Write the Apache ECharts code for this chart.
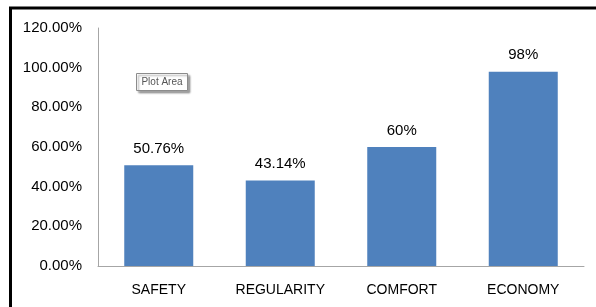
<!DOCTYPE html>
<html>
<head>
<meta charset="utf-8">
<script src="https://cdn.jsdelivr.net/npm/echarts@6/dist/echarts.min.js"></script>
<style>
  html, body { margin: 0; padding: 0; background: #fff; }
  #chart { width: 596px; height: 307px; }
</style>
</head>
<body>
<div id="chart"></div>
<script>
// data
let categories = ['SAFETY', 'REGULARITY', 'COMFORT', 'ECONOMY'];
let values = [0.5076, 0.4314, 0.60, 0.98];
let valueLabels = ['50.76%', '43.14%', '60%', '98%'];
let yTicks = [0, 0.2, 0.4, 0.6, 0.8, 1.0, 1.2];

let myChart = echarts.init(document.getElementById('chart'));
let font = 'Liberation Sans, Arial, sans-serif';

let option = {
    animation: false,
    grid: {
        left: 98,
        right: 12,
        top: 28,
        bottom: 41,
        containLabel: false
    },
    xAxis: {
        type: 'category',
        data: categories,
        axisLine: { lineStyle: { color: '#a6a6a6', width: 1 } },
        axisTick: { show: false },
        axisLabel: {
            color: '#000',
            fontSize: 14,
            fontFamily: font,
            margin: 17
        }
    },
    yAxis: {
        type: 'value',
        min: yTicks[0],
        max: yTicks[yTicks.length - 1],
        interval: 0.2,
        axisLine: { show: true, lineStyle: { color: '#a6a6a6', width: 1 } },
        axisTick: { show: false },
        splitLine: { show: false },
        axisLabel: {
            color: '#000',
            fontSize: 15,
            fontFamily: font,
            margin: 16,
            formatter: function (v) {
                return (v * 100).toFixed(2) + '%';
            }
        }
    },
    series: [{
        type: 'bar',
        data: values,
        barWidth: 69,
        itemStyle: { color: '#4f81bd' },
        label: {
            show: true,
            position: 'top',
            distance: 9,
            color: '#000',
            fontSize: 15,
            fontFamily: font,
            formatter: function (p) {
                return valueLabels[p.dataIndex];
            }
        }
    }],
    graphic: [
        {
            // outer chart border (only left and top are visible)
            type: 'rect',
            shape: { x: 10.5, y: 8, width: 700, height: 400 },
            style: { fill: 'none', stroke: '#000', lineWidth: 3 },
            silent: true
        },
        {
            type: 'group',
            left: 136,
            top: 73,
            children: [
                {
                    type: 'rect',
                    shape: { x: 0, y: 0, width: 51, height: 17 },
                    style: {
                        fill: '#fff',
                        stroke: '#8c8c8c',
                        lineWidth: 1,
                        shadowBlur: 2,
                        shadowOffsetX: 2,
                        shadowOffsetY: 2,
                        shadowColor: 'rgba(0,0,0,0.35)'
                    }
                },
                {
                    type: 'text',
                    x: 25.5,
                    y: 8.5,
                    style: {
                        text: 'Plot Area',
                        fill: '#555',
                        fontSize: 10,
                        fontFamily: font,
                        align: 'center',
                        verticalAlign: 'middle'
                    }
                }
            ]
        }
    ]
};
myChart.setOption(option);
</script>
</body>
</html>
